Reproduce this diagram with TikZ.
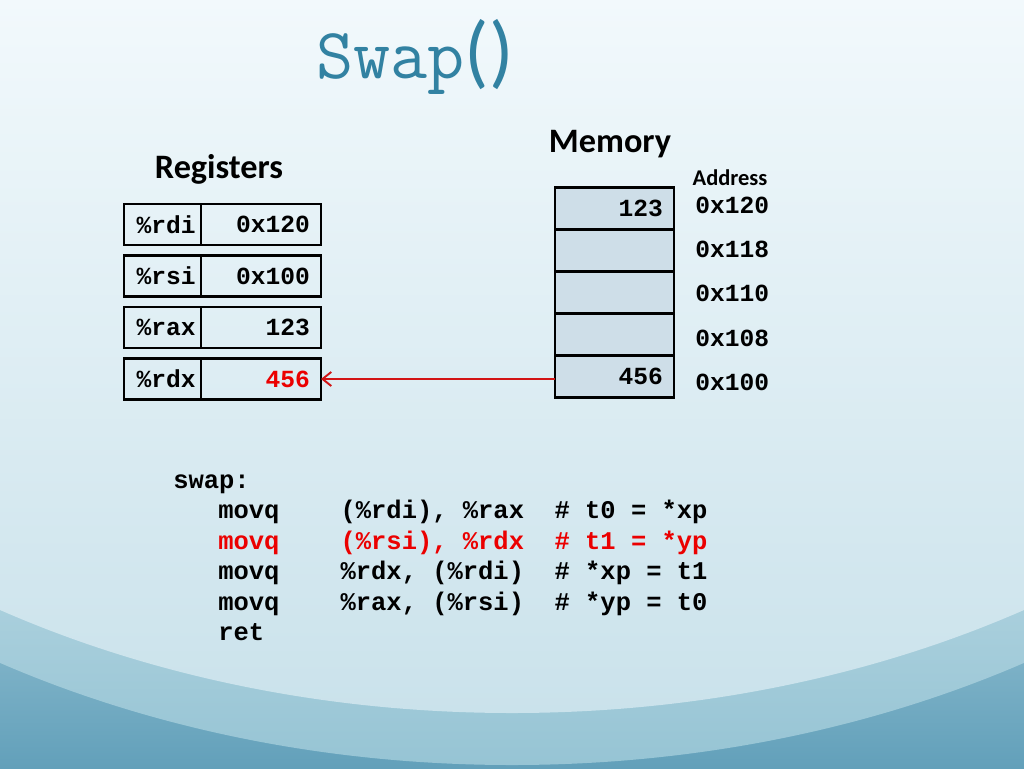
\documentclass[tikz,border=0pt]{standalone}
\usepackage{fontspec}
\setmainfont{Carlito}
\setmonofont{Liberation Mono}
\newfontfamily\titlefont{Latin Modern Mono}
\usetikzlibrary{positioning,arrows.meta}
\definecolor{titleblue}{RGB}{50,130,162}
\definecolor{memblue}{RGB}{206,222,232}
\definecolor{codered}{RGB}{235,0,0}
\definecolor{arrowred}{RGB}{210,20,20}
\definecolor{bgtop}{RGB}{242,249,252}
\definecolor{bglight}{RGB}{202,226,235}
\definecolor{bgwave}{RGB}{150,196,212}
\definecolor{bgband}{RGB}{190,220,230}
\definecolor{bgdeep}{RGB}{98,160,186}

\tikzset{
  regname/.style={draw, line width=1.4pt, outer sep=0pt, minimum height=0.82cm,
    inner xsep=0.25cm, inner ysep=0pt, text width=1.04cm, align=left,
    font=\fontsize{14}{16}\selectfont\ttfamily\bfseries},
  regval/.style={regname, inner xsep=0.22cm, text width=1.96cm, align=right},
  memcell/.style={draw, fill=memblue, line width=1.4pt, outer sep=0pt, minimum height=0.84cm,
    inner xsep=0.22cm, inner ysep=0pt, text width=1.94cm, align=right,
    font=\fontsize{14}{16}\selectfont\ttfamily\bfseries},
  addr/.style={anchor=west, inner sep=0pt, font=\fontsize{14}{16}\selectfont\ttfamily\bfseries},
  heading/.style={font=\fontsize{19.5}{22}\selectfont\bfseries},
  codeline/.style={anchor=base west, inner sep=0pt, font=\fontsize{14.5}{17}\selectfont\ttfamily\bfseries}
}

\begin{document}
\begin{tikzpicture}[x=0.02cm, y=-0.02cm]
  % Background
  \begin{scope}
    \clip (0,0) rectangle (1024,768);
    \shade[top color=bgband, bottom color=bgdeep] (0,400) rectangle (1024,768);
    \begin{scope}
      \clip (512,40) ellipse (1000 and 725);
      \shade[top color=bgtop, bottom color=bgwave] (0,0) rectangle (1024,768);
    \end{scope}
    \begin{scope}
      \clip (512,13) ellipse (980 and 700);
      \shade[top color=bgtop, bottom color=bglight] (0,0) rectangle (1024,713);
    \end{scope}
  \end{scope}
  \useasboundingbox (0,0) rectangle (1024,768);

  % Title
  \node[text=titleblue, anchor=west, inner sep=0pt] (title) at (316,57)
    {\fontsize{41}{44}\selectfont\titlefont Swap\fontsize{46}{48}\selectfont\rmfamily()};

  % Registers
  \node[heading] (reghead) at (219,169) {Registers};
  \node[regname] (rdi) at (162.5,224.5) {\%rdi};
  \node[regval, right=0pt of rdi] (rdival) {0x120};
  \node[regname, below=0.21cm of rdi] (rsi) {\%rsi};
  \node[regval, right=0pt of rsi] (rsival) {0x100};
  \node[regname, below=0.21cm of rsi] (rax) {\%rax};
  \node[regval, right=0pt of rax] (raxval) {123};
  \node[regname, below=0.21cm of rax] (rdx) {\%rdx};
  \node[regval, right=0pt of rdx, text=codered] (rdxval) {456};

  % Memory
  \node[heading] (memhead) at (610,144) {Memory};
  \node[font=\fontsize{12.8}{14}\selectfont\bfseries] (addrhead) at (730,178) {Address};
  \node[memcell] (m120) at (614.5,208.5) {123};
  \node[memcell, below=0pt of m120] (m118) {};
  \node[memcell, below=0pt of m118] (m110) {};
  \node[memcell, below=0pt of m110] (m108) {};
  \node[memcell, below=0pt of m108] (m100) {456};
  \node[addr] (a120) at (695,205) {0x120};
  \node[addr] (a118) at (695,249) {0x118};
  \node[addr] (a110) at (695,293) {0x110};
  \node[addr] (a108) at (695,338) {0x108};
  \node[addr] (a100) at (695,382) {0x100};

  % Arrow
  \draw[-{Straight Barb[length=5pt,width=8pt]}, arrowred, line width=1.1pt]
    (m100.west |- rdxval.east) -- (rdxval.east);

  % Code
  \node[codeline] (lswap) at (173,488) {swap:};
  \node[codeline] (ins1) at (218,518) {movq~~~~(\%rdi),~\%rax~~\#~t0~=~*xp};
  \node[codeline, text=codered] (ins2) at (218,549) {movq~~~~(\%rsi),~\%rdx~~\#~t1~=~*yp};
  \node[codeline] (ins3) at (218,579) {movq~~~~\%rdx,~(\%rdi)~~\#~*xp~=~t1};
  \node[codeline] (ins4) at (218,610) {movq~~~~\%rax,~(\%rsi)~~\#~*yp~=~t0};
  \node[codeline] (lret) at (218,640) {ret};
\end{tikzpicture}
\end{document}
